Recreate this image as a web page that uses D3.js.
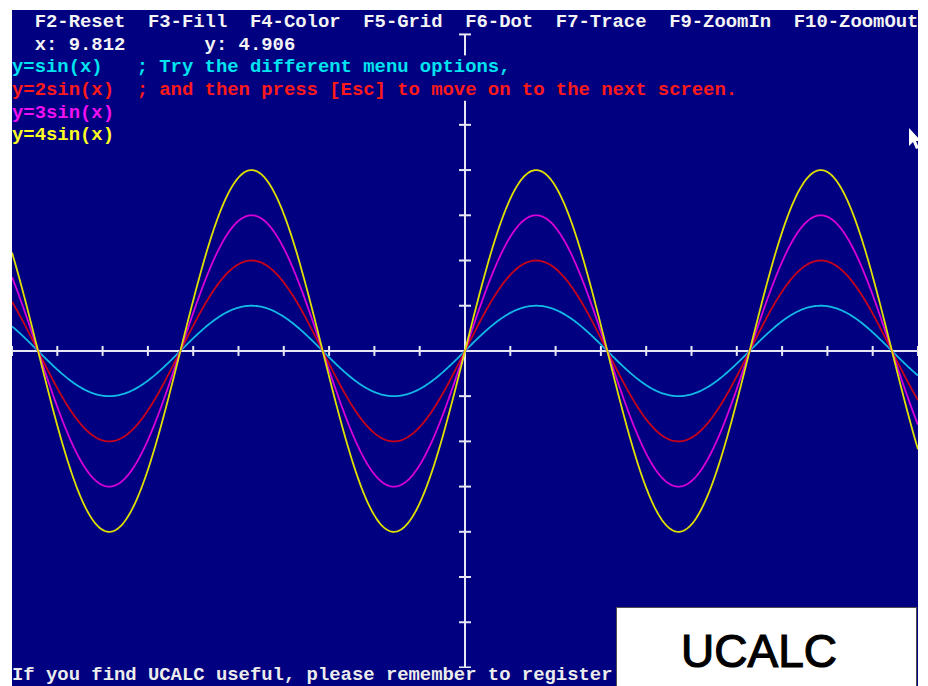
<!DOCTYPE html>
<html>
<head>
<meta charset="utf-8">
<script src="https://cdn.jsdelivr.net/npm/d3@7"></script>
<style>
  html, body { margin: 0; padding: 0; background: #ffffff; }
  svg { display: block; }
  text { white-space: pre; }
</style>
</head>
<body>
<svg id="chart" width="928" height="686"></svg>
<script>
// ---- data ----
const equations = ["y=sin(x)", "y=2sin(x)", "y=3sin(x)", "y=4sin(x)"];
const amplitudes = [1, 2, 3, 4];
const curveColors = ["#12b8e6", "#c8001a", "#d800d8", "#e0e000"];
const labelColors = ["#00e4f0", "#ff1a1a", "#f010f0", "#ffff20"];
const xDomain = [-10, 10];
const yDomain = [-7.41, 7.54];
const xTicks = d3.range(-10, 11, 1);
const yTicks = d3.range(-7, 8, 1);
const menuItems = ["F2-Reset", "F3-Fill", "F4-Color", "F5-Grid", "F6-Dot", "F7-Trace", "F9-ZoomIn", "F10-ZoomOut"];
const menuCols = [2, 12, 21, 31, 40, 48, 58, 69];
const cursorX = "9.812";
const cursorY = "4.906";
const hintLines = ["; Try the different menu options,", "; and then press [Esc] to move on to the next screen."];
const footer = "If you find UCALC useful, please remember to register";
const brand = "UCALC";

// ---- layout ----
const svg = d3.select("#chart");
const panel = { x0: 12, y0: 10, x1: 918, y1: 686 };
const navy = "#000080";
const axisColor = "#e6e6f4";
const colW = 11.33, rowH = 22.69, base0 = 27;
const mono = "'Liberation Mono', 'DejaVu Sans Mono', monospace";

const x = d3.scaleLinear().domain(xDomain).range([panel.x0, panel.x1]);
const y = d3.scaleLinear().domain(yDomain).range([panel.y1, panel.y0]);

svg.append("rect")
  .attr("x", panel.x0).attr("y", panel.y0)
  .attr("width", panel.x1 - panel.x0).attr("height", panel.y1 - panel.y0)
  .attr("fill", navy);

svg.append("defs").append("clipPath").attr("id", "clip")
  .append("rect")
  .attr("x", panel.x0).attr("y", panel.y0)
  .attr("width", panel.x1 - panel.x0).attr("height", panel.y1 - panel.y0);

const g = svg.append("g").attr("clip-path", "url(#clip)");

// axes
const ax = g.append("g").attr("stroke", axisColor).attr("stroke-width", 2);
ax.append("line")
  .attr("x1", x(xDomain[0])).attr("x2", x(xDomain[1]))
  .attr("y1", y(0)).attr("y2", y(0));
ax.selectAll("line.xt").data(xTicks).join("line").attr("class", "xt")
  .attr("x1", d => x(d)).attr("x2", d => x(d))
  .attr("y1", y(0) - 5).attr("y2", y(0) + 5);
ax.append("line")
  .attr("x1", x(0)).attr("x2", x(0))
  .attr("y1", y(yTicks[0])).attr("y2", y(yTicks[yTicks.length - 1]));
ax.selectAll("line.yt").data(yTicks).join("line").attr("class", "yt")
  .attr("x1", x(0) - 6).attr("x2", x(0) + 6)
  .attr("y1", d => y(d)).attr("y2", d => y(d));

// curves
const xs = d3.range(xDomain[0], xDomain[1] + 0.001, 0.02);
const line = d3.line().x(d => x(d[0])).y(d => y(d[1]));
amplitudes.forEach((a, i) => {
  const pts = xs.map(v => [v, a * Math.sin(v)]);
  g.append("path").datum(pts)
    .attr("d", line)
    .attr("fill", "none")
    .attr("stroke", curveColors[i])
    .attr("stroke-width", 1.8);
});

// text helper (80 x 30 character grid)
function put(str, col, row, color, bg) {
  const bx = panel.x0 + col * colW;
  const by = base0 + row * rowH;
  if (bg) {
    g.append("rect")
      .attr("x", bx).attr("y", by - 17)
      .attr("width", str.length * colW).attr("height", rowH)
      .attr("fill", navy);
  }
  svg.append("text")
    .attr("x", bx).attr("y", by)
    .attr("font-family", mono)
    .attr("font-size", 18.9)
    .attr("font-weight", "bold")
    .attr("fill", color)
    .attr("textLength", str.length * colW)
    .attr("lengthAdjust", "spacing")
    .text(str);
}

menuItems.forEach((m, i) => put(m, menuCols[i], 0, "#f4f4f4", false));
put("x: " + cursorX, 2, 1, "#f4f4f4", false);
put("y: " + cursorY, 17, 1, "#f4f4f4", false);
equations.forEach((e, i) => put(e, 0, 2 + i, labelColors[i], true));
hintLines.forEach((h, i) => put(h, 11, 2 + i, labelColors[i], true));

// footer
{
  const by = 680;
  g.append("rect").attr("x", panel.x0).attr("y", by - 12)
    .attr("width", footer.length * colW).attr("height", 30).attr("fill", navy);
  svg.append("text")
    .attr("x", panel.x0).attr("y", by)
    .attr("font-family", mono).attr("font-size", 18.9).attr("font-weight", "bold")
    .attr("fill", "#ececec")
    .attr("textLength", footer.length * colW).attr("lengthAdjust", "spacing")
    .text(footer);
}

// brand box
svg.append("rect")
  .attr("x", 616.5).attr("y", 607.5).attr("width", 300).attr("height", 90)
  .attr("fill", "#ffffff").attr("stroke", "#505050").attr("stroke-width", 1);
svg.append("text")
  .attr("x", 759).attr("y", 667)
  .attr("text-anchor", "middle")
  .attr("font-family", "'Liberation Sans', Arial, sans-serif")
  .attr("font-size", 46)
  .attr("fill", "#000000")
  .attr("stroke", "#000000")
  .attr("stroke-width", 1.2)
  .text(brand);

// mouse pointer
svg.append("path")
  .attr("clip-path", "url(#clip)")
  .attr("d", "M909,128 L909,146 L913,142 L916,149 L919,148 L916,141 L921,141 Z")
  .attr("fill", "#ffffff");
</script>
</body>
</html>
